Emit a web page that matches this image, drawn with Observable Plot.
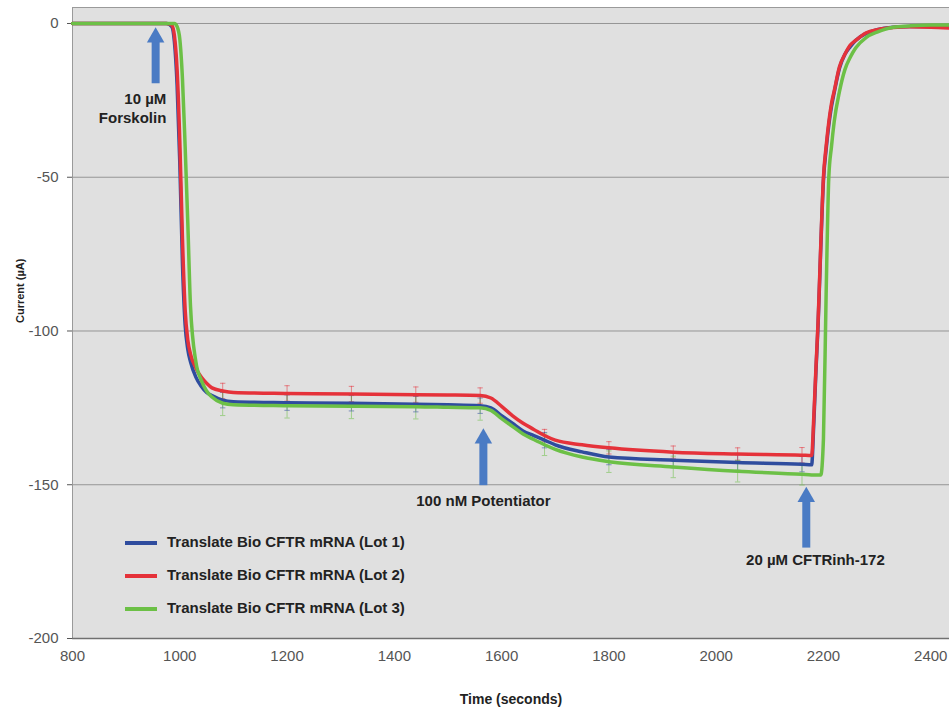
<!DOCTYPE html>
<html>
<head>
<meta charset="utf-8">
<script src="https://cdn.jsdelivr.net/npm/d3@7"></script>
<script src="https://cdn.jsdelivr.net/npm/@observablehq/plot@0.6"></script>
<style>
  html, body { margin: 0; padding: 0; background: #ffffff; }
  #wrap { position: relative; width: 949px; height: 713px; font-family: Arial, "Liberation Sans", sans-serif; }
  #legend { position: absolute; left: 125px; top: 525px; }
  .row { height: 33px; line-height: 33px; white-space: nowrap; font-weight: bold; font-size: 15px; color: #222; }
  .sw { display: inline-block; width: 32px; height: 4px; margin-right: 10px; vertical-align: middle; }
</style>
</head>
<body>
<div id="wrap"></div>
<script>
// ---- data ----
const seriesNames = [
  "Translate Bio CFTR mRNA (Lot 1)",
  "Translate Bio CFTR mRNA (Lot 2)",
  "Translate Bio CFTR mRNA (Lot 3)"
];
const seriesColors = ["#2f4c9e", "#e5323a", "#6cc046"];

const times = [800, 900, 975, 985, 990, 995, 1000, 1005, 1010, 1015,
  1020, 1030, 1040, 1050, 1060, 1080, 1100, 1200, 1320, 1440,
  1500, 1560, 1580, 1600, 1620, 1640, 1660, 1680, 1700, 1750,
  1800, 1920, 2040, 2160, 2178, 2182, 2186, 2190, 2195, 2200,
  2205, 2210, 2215, 2220, 2230, 2240, 2250, 2260, 2280, 2300,
  2330, 2360, 2400, 2435];

const lot1 = [0, 0, 0, -1, -6, -20, -45, -78, -98, -106,
  -110, -115, -118, -120, -121, -122.5, -123, -123.3, -123.5, -123.8,
  -124, -124.3, -125, -127.5, -130, -132.5, -134, -135.5, -137, -139.3,
  -141, -142, -142.8, -143.3, -143.5, -130, -113, -98, -73, -51,
  -41, -33, -27, -22.5, -14.5, -10, -7.5, -5.5, -3.2, -2,
  -1.2, -1, -1, -1];

const lot2 = [0, 0, 0, -0.5, -4, -15, -38, -70, -93, -103,
  -107.5, -112, -115, -117, -118.5, -119.5, -120, -120.3, -120.5, -120.7,
  -120.8, -121, -121.8, -124.5, -127.5, -130, -132, -134, -135.5, -137,
  -138, -139.4, -140, -140.4, -140.5, -128, -112, -97, -72, -50,
  -40, -32, -26, -22, -14, -10, -7, -5.5, -3, -2,
  -1.3, -1.1, -1.2, -1.5];

const lot3 = [0, 0, 0, 0, 0, -1, -5, -18, -40, -65,
  -92, -110, -116, -119.5, -121.5, -123.5, -124, -124.3, -124.5, -124.6,
  -124.8, -125, -125.8, -128.5, -131, -133.5, -135.3, -137, -138.5, -141,
  -142.5, -144.2, -145.6, -146.6, -146.8, -146.8, -146.8, -146.8, -146.8, -135,
  -88, -50, -40, -32, -22, -15, -11, -8, -4.5, -2.8,
  -1.2, -0.8, -0.5, -0.5];

const errTimes = [1080, 1200, 1320, 1440, 1560, 1680, 1800, 1920, 2040, 2160];
const err1 = [2.5, 2.5, 2.5, 2.5, 2.5, 2.5, 2.5, 2.5, 2.5, 2.5];
const err2 = [2.5, 2.5, 2.5, 2.5, 2.5, 2, 2, 2, 2, 2.5];
const err3 = [4, 4, 4, 4, 4, 3.5, 3.5, 3.5, 3.5, 3.5];

const xTicks = [800, 1000, 1200, 1400, 1600, 1800, 2000, 2200, 2400];
const yTicks = [0, -50, -100, -150, -200];

const annTime = [955, 1566, 2168];
const annTip = [-1.6, -132, -151];
const annTail = [-17, -147.7, -168];
const annLabel = ["10 µM\nForskolin", "100 nM Potentiator", "20 µM CFTRinh-172"];
const annLabelTime = [975, 1566, 2185];
const annLabelValue = [-27.3, -155.5, -174.6];

// ---- build tables ----
const lots = [lot1, lot2, lot3];
const errs = [err1, err2, err3];
const rows = [];
lots.forEach((arr, s) => times.forEach((t, i) => rows.push({t, v: arr[i], lot: seriesNames[s]})));
const errRows = [];
lots.forEach((arr, s) => errTimes.forEach((t, i) => {
  const v = arr[times.indexOf(t)];
  errRows.push({t, lo: v - errs[s][i], hi: v + errs[s][i], lot: seriesNames[s]});
}));
const ann = annTime.map((t, i) => ({t, tip: annTip[i], tail: annTail[i], label: annLabel[i], lt: annLabelTime[i], lv: annLabelValue[i]}));
const arrowColor = "#4a7bc4";

const chart = Plot.plot({
  width: 949,
  height: 713,
  marginTop: 7,
  marginRight: 0,
  marginBottom: 75,
  marginLeft: 72,
  style: {fontFamily: "Arial, 'Liberation Sans', sans-serif", color: "#555", background: "#ffffff"},
  x: {domain: [800, 2435]},
  y: {domain: [-200, 5.2]},
  color: {domain: seriesNames, range: seriesColors},
  marks: [
    Plot.frame({fill: "#e0e0e0", stroke: "#9a9a9a"}),
    Plot.ruleY(yTicks.filter(d => d > -200), {stroke: "#959595", strokeWidth: 1}),
    Plot.ruleY([-200], {stroke: "#707070", strokeWidth: 1.5}),
    Plot.axisX({ticks: xTicks, tickSize: 0, tickPadding: 12, fontSize: 15, tickFormat: d => String(d), label: null}),
    Plot.axisY({ticks: yTicks, tickSize: 5, tickPadding: 9, fontSize: 15, tickFormat: d => String(d), label: null}),
    Plot.text(["Current (µA)"], {frameAnchor: "left", dx: -52, rotate: -90, fontWeight: "bold", fontSize: 11, fill: "#222"}),
    Plot.text(["Time (seconds)"], {frameAnchor: "bottom", dy: 65, fontWeight: "bold", fontSize: 14, fill: "#222"}),
    // error bars
    Plot.ruleX(errRows, {x: "t", y1: "lo", y2: "hi", stroke: "lot", strokeWidth: 1, strokeOpacity: 0.55}),
    Plot.link(errRows, {x1: d => d.t - 5, x2: d => d.t + 5, y1: "lo", y2: "lo", stroke: "lot", strokeWidth: 1, strokeOpacity: 0.55}),
    Plot.link(errRows, {x1: d => d.t - 5, x2: d => d.t + 5, y1: "hi", y2: "hi", stroke: "lot", strokeWidth: 1, strokeOpacity: 0.55}),
    // traces
    Plot.line(rows, {x: "t", y: "v", z: "lot", stroke: "lot", strokeWidth: 3.5, curve: "monotone-x"}),
    // arrows
    Plot.ruleX(ann, {x: "t", y1: "tail", y2: "tip", dy: 8, stroke: arrowColor, strokeWidth: 8}),
    Plot.dot(ann, {x: "t", y: "tip", dy: 9, symbol: "triangle", r: 6.5, fill: arrowColor, stroke: "none"}),
    Plot.text(ann.slice(0, 1), {x: "lt", y: "lv", text: "label", textAnchor: "end", fontWeight: "bold", fontSize: 15, fill: "#222", lineHeight: 1.3}),
    Plot.text(ann.slice(1), {x: "lt", y: "lv", text: "label", fontWeight: "bold", fontSize: 15, fill: "#222"})
  ]
});

const wrap = document.getElementById("wrap");
wrap.appendChild(chart);
const legend = document.createElement("div");
legend.id = "legend";
seriesNames.forEach((n, i) => {
  const row = document.createElement("div");
  row.className = "row";
  const sw = document.createElement("span");
  sw.className = "sw";
  sw.style.background = seriesColors[i];
  row.appendChild(sw);
  row.appendChild(document.createTextNode(n));
  legend.appendChild(row);
});
wrap.appendChild(legend);
</script>
</body>
</html>
